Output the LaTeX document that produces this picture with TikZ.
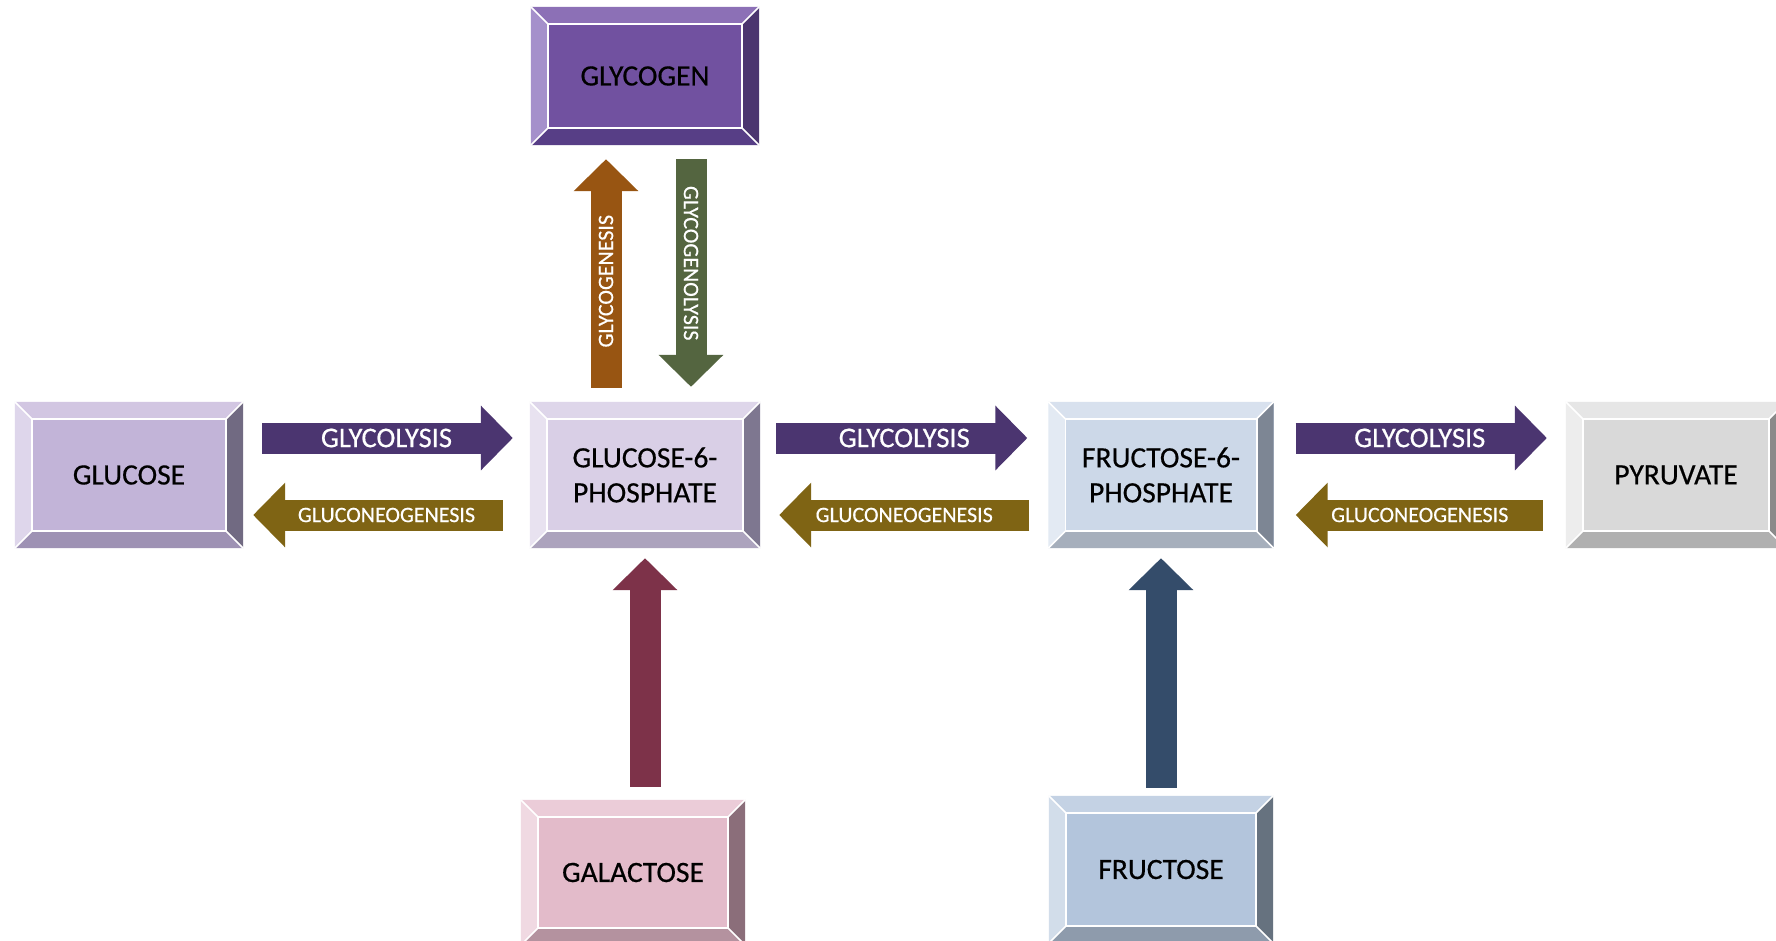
\documentclass[tikz,border=0pt]{standalone}
\usepackage{fontspec}
\setmainfont{Carlito}
\newfontfamily\heavyfont{Carlito}[FakeBold=0.5]
\usetikzlibrary{arrows.meta}

\definecolor{glycogenmain}{HTML}{7151A0}
\definecolor{glycogentop}{HTML}{8C70B6}
\definecolor{glycogenleft}{HTML}{A590CB}
\definecolor{glycogenright}{HTML}{4B356F}
\definecolor{glycogenbot}{HTML}{573E86}
\definecolor{glucosemain}{HTML}{C2B4D8}
\definecolor{glucosetop}{HTML}{D2C6E2}
\definecolor{glucoseleft}{HTML}{DED6EB}
\definecolor{glucoseright}{HTML}{716A82}
\definecolor{glucosebot}{HTML}{9E92B4}
\definecolor{gsixmain}{HTML}{D9CFE6}
\definecolor{gsixtop}{HTML}{DED6EA}
\definecolor{gsixleft}{HTML}{E8E2F0}
\definecolor{gsixright}{HTML}{7E7790}
\definecolor{gsixbot}{HTML}{ACA3BD}
\definecolor{fsixmain}{HTML}{CCD8E8}
\definecolor{fsixtop}{HTML}{D8E1EE}
\definecolor{fsixleft}{HTML}{E3EAF3}
\definecolor{fsixright}{HTML}{7D8694}
\definecolor{fsixbot}{HTML}{A6AFBC}
\definecolor{pyrumain}{HTML}{D9D9D9}
\definecolor{pyrutop}{HTML}{E6E6E6}
\definecolor{pyruleft}{HTML}{EDEDED}
\definecolor{pyruright}{HTML}{8A8A8A}
\definecolor{pyrubot}{HTML}{B0B0B0}
\definecolor{galmain}{HTML}{E3BBCA}
\definecolor{galtop}{HTML}{EBCCD8}
\definecolor{galleft}{HTML}{F0D9E2}
\definecolor{galright}{HTML}{8B6E7A}
\definecolor{galbot}{HTML}{B4929F}
\definecolor{frumain}{HTML}{B3C5DC}
\definecolor{frutop}{HTML}{C4D2E4}
\definecolor{fruleft}{HTML}{D2DDEA}
\definecolor{fruright}{HTML}{66727F}
\definecolor{frubot}{HTML}{8E9BAC}
\definecolor{lysiscol}{HTML}{4B3570}
\definecolor{neocol}{HTML}{7F6414}
\definecolor{genesiscol}{HTML}{985512}
\definecolor{olysiscol}{HTML}{546540}
\definecolor{galarrow}{HTML}{7D3249}
\definecolor{fruarrow}{HTML}{344C6A}

\newcommand{\bevel}[5]{%
	\fill[#2] (#1.north west) -- (#1.north east) -- ([shift={(-17,17)}]#1.north east) -- ([shift={(17,17)}]#1.north west) -- cycle;
	\fill[#3] (#1.north west) -- (#1.south west) -- ([shift={(17,-17)}]#1.south west) -- ([shift={(17,17)}]#1.north west) -- cycle;
	\fill[#4] (#1.north east) -- (#1.south east) -- ([shift={(-17,-17)}]#1.south east) -- ([shift={(-17,17)}]#1.north east) -- cycle;
	\fill[#5] (#1.south west) -- (#1.south east) -- ([shift={(-17,-17)}]#1.south east) -- ([shift={(17,-17)}]#1.south west) -- cycle;
	\draw[white,line width=1.6pt] ([shift={(17,17)}]#1.north west) rectangle ([shift={(-17,-17)}]#1.south east);
	\draw[white,line width=1.6pt] (#1.north west) -- ([shift={(17,17)}]#1.north west)
		(#1.north east) -- ([shift={(-17,17)}]#1.north east)
		(#1.south east) -- ([shift={(-17,-17)}]#1.south east)
		(#1.south west) -- ([shift={(17,-17)}]#1.south west);
}

\begin{document}
\begin{tikzpicture}[x=1pt,y=-1pt,
	box/.style={inner sep=0pt,align=center,font=\heavyfont\fontsize{29.5}{35}\selectfont},
	flow/.style={line width=31pt,-{Triangle[length=32pt,width=63pt]}},
	lysistext/.style={text=white,font=\heavyfont\fontsize{28.5}{30}\selectfont},
	neotext/.style={text=white,font=\heavyfont\fontsize{22}{25}\selectfont}]
	\useasboundingbox (0,0) rectangle (1776,940);
	\clip (0,0) rectangle (1776,940);
	\fill[white] (0,0) rectangle (1776,940);

	\node[box,fill=glycogenmain,minimum width=228pt,minimum height=138pt](glycogen) at (645,76) {GLYCOGEN};
	\node[box,fill=gsixmain,minimum width=230pt,minimum height=146pt](gsix) at (645,475) {GLUCOSE-6-\\PHOSPHATE};
	\node[box,fill=glucosemain,minimum width=228pt,minimum height=146pt](glucose) at (129,475) {GLUCOSE};
	\node[box,fill=fsixmain,minimum width=225pt,minimum height=146pt](fsix) at (1161,475) {FRUCTOSE-6-\\PHOSPHATE};
	\node[box,fill=pyrumain,minimum width=220pt,minimum height=146pt](pyruvate) at (1676,475) {PYRUVATE};
	\node[box,fill=galmain,minimum width=224pt,minimum height=145pt](galactose) at (633,872.5) {GALACTOSE};
	\node[box,fill=frumain,minimum width=224pt,minimum height=147pt](fructose) at (1161,869.5) {FRUCTOSE};

	\bevel{glycogen}{glycogentop}{glycogenleft}{glycogenright}{glycogenbot}
	\bevel{gsix}{gsixtop}{gsixleft}{gsixright}{gsixbot}
	\bevel{glucose}{glucosetop}{glucoseleft}{glucoseright}{glucosebot}
	\bevel{fsix}{fsixtop}{fsixleft}{fsixright}{fsixbot}
	\bevel{pyruvate}{pyrutop}{pyruleft}{pyruright}{pyrubot}
	\bevel{galactose}{galtop}{galleft}{galright}{galbot}
	\bevel{fructose}{frutop}{fruleft}{fruright}{frubot}

	\draw[flow,lysiscol,shorten <=19pt,shorten >=17pt] ([yshift=37pt]glucose.east) -- ([yshift=37pt]gsix.west) node[midway,lysistext]{GLYCOLYSIS};
	\draw[flow,lysiscol,shorten <=16pt,shorten >=21pt] ([yshift=37pt]gsix.east) -- ([yshift=37pt]fsix.west) node[midway,lysistext]{GLYCOLYSIS};
	\draw[flow,lysiscol,shorten <=22pt,shorten >=19pt] ([yshift=37pt]fsix.east) -- ([yshift=37pt]pyruvate.west) node[midway,lysistext]{GLYCOLYSIS};
	\draw[flow,neocol,shorten <=27pt,shorten >=10pt] ([yshift=-40pt]gsix.west) -- ([yshift=-40pt]glucose.east) node[midway,neotext]{GLUCONEOGENESIS};
	\draw[flow,neocol,shorten <=19pt,shorten >=19pt] ([yshift=-40pt]fsix.west) -- ([yshift=-40pt]gsix.east) node[midway,neotext]{GLUCONEOGENESIS};
	\draw[flow,neocol,shorten <=23pt,shorten >=22pt] ([yshift=-40pt]pyruvate.west) -- ([yshift=-40pt]fsix.east) node[midway,neotext]{GLUCONEOGENESIS};

	\draw[flow,genesiscol,shorten <=14pt,shorten >=14pt] ([xshift=-39pt]gsix.north) -- ([xshift=-39pt]glycogen.south) node[pos=0.47,neotext,rotate=90]{GLYCOGENESIS};
	\draw[flow,olysiscol,shorten <=14pt,shorten >=15pt] ([xshift=46pt]glycogen.south) -- ([xshift=46pt]gsix.north) node[pos=0.46,neotext,rotate=-90]{GLYCOGENOLYSIS};
	\draw[flow,galarrow,shorten <=13pt,shorten >=10pt] (galactose.north -| gsix.south) -- (gsix.south);
	\draw[flow,fruarrow,shorten <=8pt,shorten >=10pt] (fructose.north) -- (fsix.south);
\end{tikzpicture}
\end{document}
